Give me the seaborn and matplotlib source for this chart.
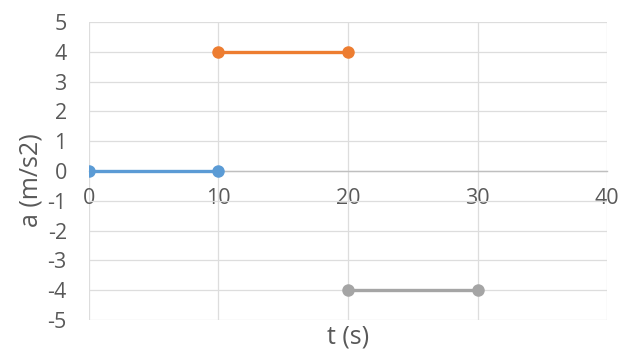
import pandas as pd
import matplotlib.pyplot as plt
import seaborn as sns

# three constant-acceleration segments
seg_names = ["s1", "s2", "s3"]
t_s1 = [0, 10]
a_s1 = [0, 0]
t_s2 = [10, 20]
a_s2 = [4, 4]
t_s3 = [20, 30]
a_s3 = [-4, -4]
x_ticks = [0, 10, 20, 30, 40]
y_ticks = [5, 4, 3, 2, 1, 0, -1, -2, -3, -4, -5]
colors = ["#5B9BD5", "#ED7D31", "#A5A5A5"]

df = pd.concat([
    pd.DataFrame({"t": t_s1, "a": a_s1, "seg": seg_names[0]}),
    pd.DataFrame({"t": t_s2, "a": a_s2, "seg": seg_names[1]}),
    pd.DataFrame({"t": t_s3, "a": a_s3, "seg": seg_names[2]}),
])

sns.set_style("white")
plt.rcParams["font.family"] = ["Open Sans", "DejaVu Sans"]
plt.rcParams["axes.unicode_minus"] = False
txt = "#595959"

fig = plt.figure(figsize=(6.21, 3.53), dpi=100)
ax = fig.add_axes([0.1433, 0.0935, 0.8342, 0.8442])

sns.lineplot(data=df, x="t", y="a", hue="seg", palette=colors, marker="o",
             markersize=9, markeredgewidth=0, linewidth=2.4, legend=False,
             ax=ax, zorder=3)

ax.set_xlim(0, 40)
ax.set_ylim(-5, 5)
ax.set_xticks(x_ticks)
ax.set_yticks(y_ticks)
ax.grid(True, color="#DDDDDD", linewidth=0.9)
ax.set_axisbelow(True)

for s in ["top", "right", "left"]:
    ax.spines[s].set_visible(False)
ax.spines["bottom"].set_position(("data", 0))
ax.spines["bottom"].set_color("#BFBFBF")
ax.spines["bottom"].set_linewidth(1.0)
ax.spines["bottom"].set_zorder(2)

ax.tick_params(axis="x", length=0, pad=12, labelsize=15.5, labelcolor=txt)
ax.tick_params(axis="y", length=0, pad=16, labelsize=15.5, labelcolor=txt)

ax.set_xlabel("")
ax.set_ylabel("")
fig.text(0.5604, 0.045, "t (s)", ha="center", va="center", fontsize=18, color=txt)
fig.text(0.05, 0.49, "a (m/s2)", ha="center", va="center", rotation=90,
         fontsize=18, color=txt)

fig.savefig("out.png", dpi=100)
